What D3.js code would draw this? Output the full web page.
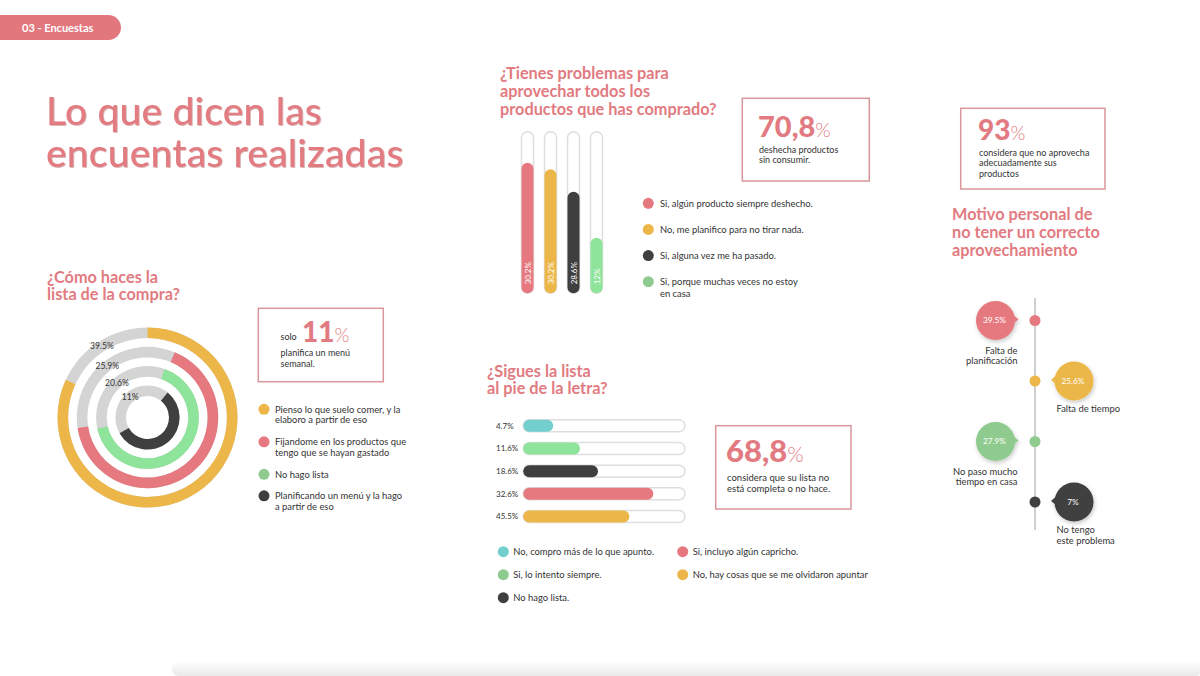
<!DOCTYPE html>
<html><head><meta charset="utf-8">
<script src="https://cdn.jsdelivr.net/npm/d3@7"></script>
<style>
body{margin:0;background:#fff;}
svg{display:block;font-family:Lato,"Open Sans",sans-serif;}
</style></head><body>
<script>
// ---------- DATA ----------
const donutCategories = ["Pienso lo que suelo comer, y la\nelaboro a partir de eso", "Fijandome en los productos que\ntengo que se hayan gastado", "No hago lista", "Planificando un menú y la hago\na partir de eso"];
const donutValues = [39.5, 25.9, 20.6, 11];
const donutArcFrom = [0, 6.3, 5.4, 10.8];     // % of ring where coloured arc starts
const donutArcTo = [81.9, 72.6, 71.5, 66.8];  // % of ring where coloured arc ends

const wasteCategories = ["Si, algún producto siempre deshecho.", "No, me planifico para no tirar nada.", "Si, alguna vez me ha pasado.", "Si, porque muchas veces no estoy\nen casa"];
const wasteValues = [30.2, 30.2, 28.6, 12];
const wasteLevels = [80.8, 76.7, 62.9, 34.4]; // drawn fill level, % of track

const listCategories = ["No, compro más de lo que apunto.", "Si, lo intento siempre.", "No hago lista.", "Si, incluyo algún capricho.", "No, hay cosas que se me olvidaron apuntar"];
const listValues = [4.7, 11.6, 18.6, 32.6, 45.5];
const listLevels = [18.5, 35.1, 46.2, 80.4, 65.6]; // drawn fill level, % of track

const reasonCategories = ["Falta de\nplanificación", "Falta de tiempo", "No paso mucho\ntiempo en casa", "No tengo\neste problema"];
const reasonValues = [39.5, 25.6, 27.9, 7];

const highlightValues = ["70,8", "11", "68,8", "93"];
const highlightTexts = ["deshecha productos\nsin consumir.", "planifica un menú\nsemanal.", "considera que su lista no\nestá completa o no hace.", "considera que no aprovecha\nadecuadamente sus\nproductos"];

// ---------- STYLE ----------
const PINK = "#e27b81", RED = "#e5797f", YEL = "#ecb748", BLK = "#3f3f3f", GRN = "#8ee49a", GRN2 = "#8fcb8f", TEAL = "#72cfcd", GREY = "#d4d4d4", TXT = "#333";
const LEG = 9.4;

const svg = d3.select("body").append("svg").attr("width", 1200).attr("height", 676);
const defs = svg.append("defs");
defs.append("filter").attr("id", "shadow").attr("x", "-50%").attr("y", "-50%").attr("width", "200%").attr("height", "200%")
  .append("feDropShadow").attr("dx", 1).attr("dy", 2).attr("stdDeviation", 2).attr("flood-color", "#000").attr("flood-opacity", 0.22);
defs.append("filter").attr("id", "tshadow").attr("x", "-5%").attr("y", "-10%").attr("width", "110%").attr("height", "130%")
  .append("feDropShadow").attr("dx", 0.8).attr("dy", 0.8).attr("stdDeviation", 0.4).attr("flood-color", "#a8484e").attr("flood-opacity", 0.5);
const grad = defs.append("linearGradient").attr("id", "bottomg").attr("x1", 0).attr("x2", 0).attr("y1", 0).attr("y2", 1);
grad.append("stop").attr("offset", 0).attr("stop-color", "#fff");
grad.append("stop").attr("offset", 1).attr("stop-color", "#e9e9e9");

function lines(g, x, y, str, lh, attrs) {
  const t = g.append("text").attr("x", x).attr("y", y);
  Object.entries(attrs || {}).forEach(([k, v]) => t.attr(k, v));
  str.split("\n").forEach((s, i) => t.append("tspan").attr("x", x).attr("dy", i ? lh : 0).text(s));
  return t;
}

// bottom shadow strip
svg.append("rect").attr("x", 172).attr("y", 661).attr("width", 1030).attr("height", 15).attr("rx", 6).attr("fill", "url(#bottomg)");

// header tag
svg.append("rect").attr("x", -20).attr("y", 15).attr("width", 141).attr("height", 25).attr("rx", 12.5).attr("fill", "#e3777e");
svg.append("text").attr("x", 22).attr("y", 31.5).attr("font-size", 11).attr("font-weight", 700).attr("fill", "#fff").text("03 - Encuestas");

// main title
const titleAttrs = {"font-size": 39, "font-weight": 500, "letter-spacing": 0.2, fill: PINK, filter: "url(#tshadow)"};
lines(svg, 46, 125, "Lo que dicen las", 0, titleAttrs);
lines(svg, 46, 166.5, "encuentas realizadas", 0, titleAttrs);

const titleAttr = {"font-size": 16.3, "font-weight": 700, fill: PINK};
lines(svg, 47, 282.5, "¿Cómo haces la\nlista de la compra?", 17.5, titleAttr);
lines(svg, 500, 79, "¿Tienes problemas para\naprovechar todos los\nproductos que has comprado?", 18, titleAttr);
lines(svg, 487, 376.5, "¿Sigues la lista\nal pie de la letra?", 17.8, titleAttr);
lines(svg, 952, 220, "Motivo personal de\nno tener un correcto\naprovechamiento", 18, titleAttr);

// ---------- highlight boxes ----------
function box(x, y, w, h) {
  const g = svg.append("g");
  g.append("rect").attr("x", x).attr("y", y).attr("width", w).attr("height", h).attr("fill", "none").attr("stroke", "#d9959a").attr("stroke-width", 1.5);
  return g;
}
function bigNumber(g, x, y, i, size) {
  const t = g.append("text").attr("x", x).attr("y", y).attr("fill", PINK);
  t.append("tspan").attr("font-size", size).attr("font-weight", 900).text(highlightValues[i]);
  t.append("tspan").attr("font-size", size * 0.68).attr("font-weight", 300).text("%");
}
// 70,8
{
  const g = box(742.3, 98.3, 127, 82.7);
  bigNumber(g, 758, 136.5, 0, 29);
  lines(g, 759, 152.5, highlightTexts[0], 10.8, {"font-size": 9, fill: TXT});
}
// 11
{
  const g = box(258.3, 308.3, 125, 73.4);
  g.append("text").attr("x", 280.5).attr("y", 340).attr("font-size", 9).attr("fill", TXT).text("solo");
  bigNumber(g, 302, 342, 1, 28);
  lines(g, 280.5, 356, highlightTexts[1], 10.8, {"font-size": 9, fill: TXT});
}
// 68,8
{
  const g = box(715.7, 425.7, 135.3, 83.3);
  bigNumber(g, 726, 462, 2, 31);
  lines(g, 727, 480.5, highlightTexts[2], 11, {"font-size": 9.5, fill: TXT});
}
// 93
{
  const g = box(960.7, 108.3, 144.3, 80.7);
  bigNumber(g, 978, 139.5, 3, 28);
  lines(g, 979, 155.5, highlightTexts[3], 10.5, {"font-size": 9, fill: TXT});
}

// ---------- DONUT (concentric rings) ----------
const donutColor = d3.scaleOrdinal().domain(donutCategories).range([YEL, RED, GRN, BLK]);
const legendDot = d3.scaleOrdinal().domain(donutCategories).range([YEL, RED, GRN2, BLK]);
const ringScale = d3.scaleBand().domain(donutCategories).range([90, 21.5]).paddingInner(0.45).paddingOuter(0);
const angle = d3.scaleLinear().domain([0, 100]).range([0, 2 * Math.PI]);
const donutG = svg.append("g").attr("transform", "translate(147.5,417.5)");
donutCategories.forEach((c, i) => {
  const r0 = ringScale(c), r1 = r0 + ringScale.bandwidth();
  const arc = d3.arc().innerRadius(r0).outerRadius(r1);
  donutG.append("path").attr("d", arc({startAngle: 0, endAngle: 2 * Math.PI})).attr("fill", GREY);
  donutG.append("path").attr("d", arc({startAngle: angle(donutArcFrom[i]), endAngle: angle(donutArcTo[i])})).attr("fill", donutColor(c));
  const mid = angle((donutArcTo[i] + donutArcFrom[i] + 100) / 2);
  const rm = (r0 + r1) / 2;
  donutG.append("text").attr("x", rm * Math.sin(mid)).attr("y", -rm * Math.cos(mid)).attr("dy", "0.35em")
    .attr("text-anchor", "middle").attr("font-size", 8.5).attr("fill", TXT).text(donutValues[i] + "%");
});
// legend
{
  let y = 409.3;
  donutCategories.forEach((c) => {
    svg.append("circle").attr("cx", 264).attr("cy", y).attr("r", 5.5).attr("fill", legendDot(c));
    lines(svg, 275, y + 3.3, c, 10.8, {"font-size": LEG, fill: TXT});
    y += c.split("\n").length * 11 + 10.5;
  });
}

// ---------- VERTICAL BARS ----------
const wColor = d3.scaleOrdinal().domain(wasteCategories).range([RED, YEL, BLK, GRN]);
const wDot = d3.scaleOrdinal().domain(wasteCategories).range([RED, YEL, BLK, GRN2]);
const wx = d3.scalePoint().domain(wasteCategories).range([527.5, 596.5]);
const wy = d3.scaleLinear().domain([0, 100]).range([293.3, 131.7]);
const bw = 12;
wasteCategories.forEach((c, i) => {
  const cx = wx(c);
  svg.append("rect").attr("x", cx - bw / 2).attr("y", wy(100)).attr("width", bw).attr("height", wy(0) - wy(100))
    .attr("rx", 6).attr("fill", "#fff").attr("stroke", "#dedede").attr("stroke-width", 1.5);
  svg.append("rect").attr("x", cx - bw / 2).attr("y", wy(wasteLevels[i])).attr("width", bw).attr("height", wy(0) - wy(wasteLevels[i]))
    .attr("rx", 6).attr("fill", wColor(c));
  svg.append("text").attr("transform", `translate(${cx + 3},${wy(0) - 9}) rotate(-90)`)
    .attr("font-size", 8).attr("fill", "#fff").text(wasteValues[i] + "%");
});
const wly = d3.scalePoint().domain(wasteCategories).range([203.3, 281.7]);
wasteCategories.forEach((c) => {
  svg.append("circle").attr("cx", 648.3).attr("cy", wly(c)).attr("r", 5.5).attr("fill", wDot(c));
  lines(svg, 660, wly(c) + 3.3, c, 11.5, {"font-size": LEG, fill: TXT});
});

// ---------- HORIZONTAL BARS ----------
const lColor = d3.scaleOrdinal().domain(listCategories).range([TEAL, GRN, BLK, RED, YEL]);
const lDot = d3.scaleOrdinal().domain(listCategories).range([TEAL, GRN2, BLK, RED, YEL]);
const ly = d3.scalePoint().domain(listCategories).range([425.8, 516.5]);
const lx = d3.scaleLinear().domain([0, 100]).range([523.3, 685]);
const bh = 12;
listCategories.forEach((c, i) => {
  const cy = ly(c);
  svg.append("rect").attr("x", lx(0)).attr("y", cy - bh / 2).attr("width", lx(100) - lx(0)).attr("height", bh)
    .attr("rx", 6).attr("fill", "#fff").attr("stroke", "#dedede").attr("stroke-width", 1.5);
  svg.append("rect").attr("x", lx(0)).attr("y", cy - bh / 2).attr("width", lx(listLevels[i]) - lx(0)).attr("height", bh)
    .attr("rx", 6).attr("fill", lColor(c));
  svg.append("text").attr("x", 496).attr("y", cy).attr("dy", "0.35em").attr("font-size", 8).attr("fill", TXT).text(listValues[i] + "%");
});
const legRows = d3.scalePoint().domain([0, 1, 2]).range([551.7, 597.7]);
listCategories.forEach((c, i) => {
  const col = i < 3 ? 0 : 1, row = i < 3 ? i : i - 3;
  const x = col ? 682.7 : 503.3, y = legRows(row);
  svg.append("circle").attr("cx", x).attr("cy", y).attr("r", 5.5).attr("fill", lDot(c));
  svg.append("text").attr("x", x + 10).attr("y", y + 3.3).attr("font-size", LEG).attr("fill", TXT).text(c);
});

// ---------- REASONS TIMELINE ----------
const rColor = d3.scaleOrdinal().domain(reasonCategories).range([RED, YEL, GRN2, BLK]);
const ry = d3.scalePoint().domain(reasonCategories).range([320.5, 502]);
const axisX = 1035;
svg.append("line").attr("x1", axisX).attr("x2", axisX).attr("y1", 298).attr("y2", 530).attr("stroke", "#cfcfcf").attr("stroke-width", 2);
reasonCategories.forEach((c, i) => {
  const y = ry(c), left = i % 2 === 0;
  const bx = left ? 995.5 : 1074, r = 19.5;
  svg.append("circle").attr("cx", axisX).attr("cy", y).attr("r", 5.5).attr("fill", rColor(c));
  const g = svg.append("g").attr("filter", "url(#shadow)");
  g.append("circle").attr("cx", bx).attr("cy", y).attr("r", r).attr("fill", rColor(c));
  const s = left ? 1 : -1;
  g.append("path").attr("d", `M${bx + s * 14},${y - 9} L${bx + s * 23},${y - 1} L${bx + s * 14},${y + 6} Z`).attr("fill", rColor(c));
  svg.append("text").attr("x", bx - 1).attr("y", y).attr("dy", "0.35em").attr("text-anchor", "middle")
    .attr("font-size", 8.3).attr("fill", "#fff").text(reasonValues[i] + "%");
  if (left) lines(svg, 1017.5, y + 33, c, 10.8, {"font-size": LEG, fill: TXT, "text-anchor": "end"});
  else lines(svg, 1056.5, y + 31, c, 10.8, {"font-size": LEG, fill: TXT});
});
</script>
</body></html>
